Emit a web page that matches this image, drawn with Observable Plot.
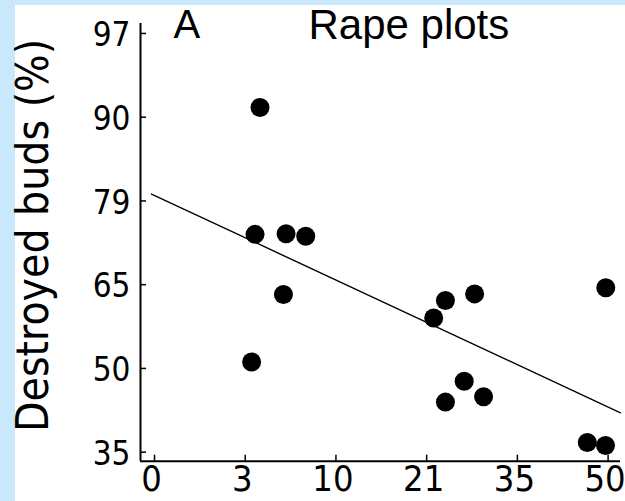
<!DOCTYPE html>
<html><head><meta charset="utf-8">
<script src="https://cdn.jsdelivr.net/npm/d3@7"></script>
<script src="https://cdn.jsdelivr.net/npm/@observablehq/plot@0.6"></script>
<style>
html,body{margin:0;padding:0;background:#c9e8fb;width:625px;height:501px;overflow:hidden;}
#paper{position:absolute;left:15px;top:5px;width:610px;height:496px;background:#fff;}
#wrap{position:absolute;left:0;top:0;width:625px;height:501px;}
#wrap svg{display:block;overflow:visible;}
g[aria-label="x-axis tick label"]{font-family:"Liberation Sans Narrow","Arial Narrow","DejaVu Sans Condensed","Liberation Sans",sans-serif;font-size:36px;}
g[aria-label="y-axis tick label"]{font-family:"Liberation Sans Narrow","Arial Narrow","DejaVu Sans Condensed","Liberation Sans",sans-serif;font-size:33px;}
</style></head><body><div id="paper"></div><div id="wrap"></div>
<script>
// Data (percent)
const xValues = [3.3, 3.0, 5.1, 6.7, 4.9, 2.8, 49.6, 27.7, 23.3, 21.6, 26.1, 23.3, 29.1, 46.4, 49.55];
const destroyedBuds = [91.5, 74.1, 74.2, 73.8, 63.7, 51.2, 64.9, 63.8, 62.6, 59.4, 47.6, 43.7, 44.7, 36.3, 35.75];

// Axes: arcsine-square-root transformed (degrees), with their labels
const xTickDeg = [0, 9, 18, 27, 36, 45];
const xTickLabels = ["0", "3", "10", "21", "35", "50"];
const yTickDeg = [36, 45, 54, 63, 72, 81];
const yTickLabels = ["35", "50", "65", "79", "90", "97"];
const xDomainDeg = [-1.39, 46.23];
const yDomainDeg = [35.03, 82.07];

const panelLabel = "A";
const title = "Rape plots";
const yLabel = "Destroyed buds (%)";

const toDeg = p => Math.asin(Math.sqrt(p / 100)) * 180 / Math.PI;
const points = xValues.map((x, i) => ({x: toDeg(x), y: toDeg(destroyedBuds[i])}));

// least-squares fit in transformed space
const mx = d3.mean(points, d => d.x), my = d3.mean(points, d => d.y);
const slope = d3.sum(points, d => (d.x - mx) * (d.y - my)) / d3.sum(points, d => (d.x - mx) ** 2);
const intercept = my - slope * mx;
const fit = [-0.3, xDomainDeg[1]].map(x => ({x, y: intercept + slope * x}));

const sans = "'Liberation Sans', Arial, sans-serif";
const narrow = "'Liberation Sans Narrow','Arial Narrow','DejaVu Sans Condensed','Liberation Sans',sans-serif";

const chart = Plot.plot({
  width: 625, height: 501,
  marginLeft: 140, marginRight: 5, marginTop: 23, marginBottom: 40.3,
  x: {domain: xDomainDeg},
  y: {domain: yDomainDeg},
  style: {background: "transparent", color: "#000"},
  marks: [
    Plot.ruleX([xDomainDeg[0]], {stroke: "#000", strokeWidth: 2}),
    Plot.ruleY([yDomainDeg[0]], {stroke: "#000", strokeWidth: 2}),
    Plot.ruleX(xTickDeg, {y1: yDomainDeg[0], y2: yDomainDeg[0] + 0.65, stroke: "#000", strokeWidth: 1.5}),
    Plot.ruleY(yTickDeg, {x1: xDomainDeg[0], x2: xDomainDeg[0] + 0.6, stroke: "#000", strokeWidth: 1.5}),
    Plot.axisX(xTickDeg, {tickSize: 0, tickPadding: 4, dx: -3, tickFormat: d => xTickLabels[xTickDeg.indexOf(d)], label: null, fontSize: 36, fontFamily: narrow}),
    Plot.axisY(yTickDeg, {tickSize: 0, tickPadding: 10, dy: 2, tickFormat: d => yTickLabels[yTickDeg.indexOf(d)], label: null, fontSize: 33, fontFamily: narrow}),
    Plot.line(fit, {x: "x", y: "y", stroke: "#000", strokeWidth: 1.4}),
    Plot.dot(points, {x: "x", y: "y", r: 9.5, fill: "#000", stroke: "none"}),
    Plot.text([panelLabel], {frameAnchor: "top-left", dx: 33, dy: 2, textAnchor: "start", lineAnchor: "middle", fontSize: 40, fontFamily: sans}),
    Plot.text([title], {frameAnchor: "top-left", dx: 168, dy: 2, textAnchor: "start", lineAnchor: "middle", fontSize: 42, fontFamily: sans}),
    Plot.text([yLabel], {frameAnchor: "left", dx: -107, dy: -7, rotate: -90, textAnchor: "middle", lineAnchor: "middle", fontSize: 44, fontFamily: narrow, style: "letter-spacing:2px"})
  ]
});
document.getElementById("wrap").appendChild(chart);
</script></body></html>
